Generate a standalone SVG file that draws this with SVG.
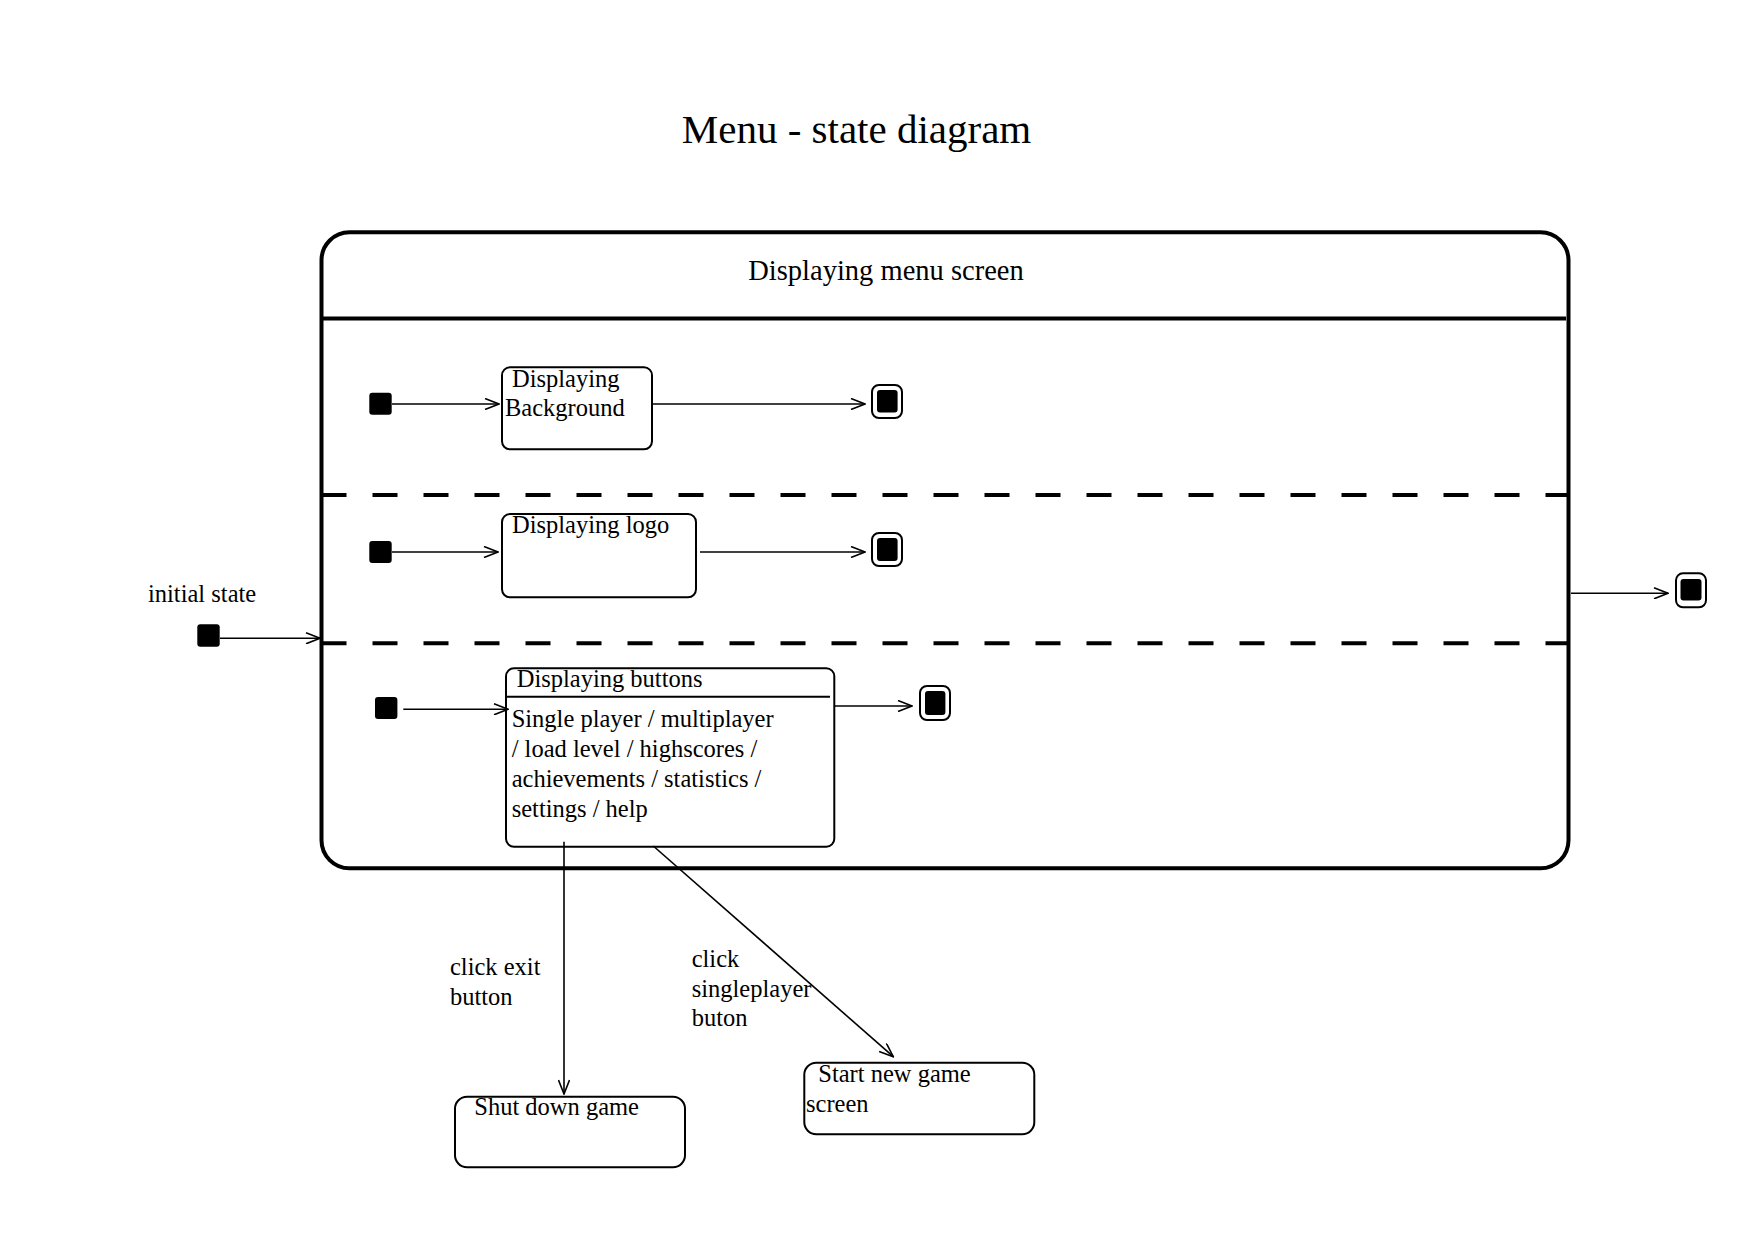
<svg xmlns="http://www.w3.org/2000/svg" width="1754" height="1241" viewBox="0 0 1754 1241">
  <style>
    text { font-family: "Liberation Serif", "Times New Roman", serif; fill: #000; }
    .lbl { font-size: 24.5px; }
    .title { font-size: 41px; }
    .hdr { font-size: 28.5px; }
    .state { fill: #fff; stroke: #000; stroke-width: 2; }
    .init { fill: #000; stroke: none; }
    .fin-out { fill: #fff; stroke: #000; stroke-width: 2; }
    .fin-in { fill: #000; stroke: none; }
    .conn { fill: none; stroke: #000; stroke-width: 1.6; marker-end: url(#arrow); }
    .dash { fill: none; stroke: #000; stroke-width: 4; stroke-dasharray: 25 26; }
  </style>
  <defs>
    <marker id="arrow" viewBox="0 0 16 12" refX="15" refY="6" markerWidth="16" markerHeight="12" markerUnits="userSpaceOnUse" orient="auto">
      <path d="M1,0.5 L15,6 L1,11.5" fill="none" stroke="#000" stroke-width="1.6"/>
    </marker>
  </defs>
  <rect width="1754" height="1241" fill="#fff"/>

  <text class="title" x="856.5" y="143" text-anchor="middle">Menu - state diagram</text>

  <g id="composite-menu-screen">
    <rect x="321.5" y="232.3" width="1247" height="636" rx="28" ry="28" fill="none" stroke="#000" stroke-width="4"/>
    <line x1="321.5" y1="318.5" x2="1566" y2="318.5" stroke="#000" stroke-width="4"/>
    <text class="hdr" x="886" y="280" text-anchor="middle">Displaying menu screen</text>
    <line class="dash" x1="321.5" y1="495" x2="1568" y2="495"/>
    <line class="dash" x1="321.5" y1="643.3" x2="1568" y2="643.3"/>
  </g>

  <g id="initial-outer">
    <rect class="init" x="197.3" y="624.3" width="22.4" height="22.4" rx="3"/>
    <text class="lbl" x="148" y="602">initial state</text>
  </g>

  <g id="initial-1"><rect class="init" x="369.3" y="392.7" width="22.4" height="22" rx="3"/></g>
  <g id="state-background">
    <rect class="state" x="502" y="367.3" width="150" height="82" rx="8"/>
    <text class="lbl" x="512" y="387">Displaying</text>
    <text class="lbl" x="505" y="416">Background</text>
  </g>
  <g id="final-1">
    <rect class="fin-out" x="872" y="385" width="30" height="33" rx="7"/>
    <rect class="fin-in" x="877" y="390" width="20.6" height="22.6" rx="3"/>
  </g>

  <g id="initial-2"><rect class="init" x="369.3" y="541" width="22.4" height="22" rx="3"/></g>
  <g id="state-logo">
    <rect class="state" x="502" y="514" width="194" height="83.3" rx="8"/>
    <text class="lbl" x="512" y="533">Displaying logo</text>
  </g>
  <g id="final-2">
    <rect class="fin-out" x="872" y="533" width="30" height="33" rx="7"/>
    <rect class="fin-in" x="877" y="538" width="20.6" height="23" rx="3"/>
  </g>

  <g id="initial-3"><rect class="init" x="375" y="697" width="22.4" height="22" rx="3"/></g>
  <g id="state-buttons">
    <rect class="state" x="506" y="668.3" width="328.3" height="178.4" rx="8"/>
    <line x1="506" y1="696.7" x2="830" y2="696.7" stroke="#000" stroke-width="2"/>
    <text class="lbl" x="516.7" y="686.7">Displaying buttons</text>
    <text class="lbl" x="511.7" y="727.3">Single player / multiplayer</text>
    <text class="lbl" x="511.7" y="757.3">/ load level / highscores /</text>
    <text class="lbl" x="511.7" y="787.3">achievements / statistics /</text>
    <text class="lbl" x="511.7" y="816.7">settings / help</text>
  </g>
  <g id="final-3">
    <rect class="fin-out" x="920" y="686" width="30" height="34" rx="7"/>
    <rect class="fin-in" x="925" y="691" width="20.4" height="24" rx="3"/>
  </g>

  <g id="final-outer">
    <rect class="fin-out" x="1676" y="573.3" width="30" height="34" rx="7"/>
    <rect class="fin-in" x="1680.5" y="579" width="21" height="21.5" rx="3"/>
  </g>

  <g id="state-shutdown">
    <rect class="state" x="455" y="1096.7" width="230" height="70.6" rx="12"/>
    <text class="lbl" x="474.3" y="1115">Shut down game</text>
  </g>
  <g id="state-newgame">
    <rect class="state" x="804.3" y="1062.7" width="230" height="71.6" rx="12"/>
    <text class="lbl" x="818.3" y="1081.7">Start new game</text>
    <text class="lbl" x="806" y="1111.7">screen</text>
  </g>

  <g id="connectors">
    <line class="conn" x1="220" y1="638.3" x2="320" y2="638.3"/>
    <line class="conn" x1="392" y1="404" x2="499" y2="404"/>
    <line class="conn" x1="653" y1="404" x2="865" y2="404"/>
    <line class="conn" x1="392" y1="552" x2="498" y2="552"/>
    <line class="conn" x1="700" y1="552" x2="865" y2="552"/>
    <line class="conn" x1="403.3" y1="709.3" x2="508" y2="709.3"/>
    <line class="conn" x1="834" y1="706" x2="912" y2="706"/>
    <line class="conn" x1="1571" y1="593.3" x2="1668" y2="593.3"/>
    <line class="conn" x1="564" y1="841.7" x2="564" y2="1094"/>
    <line class="conn" x1="653.3" y1="846" x2="893.3" y2="1056.7"/>
    <text class="lbl" x="450" y="975">click exit</text>
    <text class="lbl" x="450" y="1005">button</text>
    <text class="lbl" x="691.7" y="966.7">click</text>
    <text class="lbl" x="691.7" y="996.7">singleplayer</text>
    <text class="lbl" x="691.7" y="1026">buton</text>
  </g>
</svg>
